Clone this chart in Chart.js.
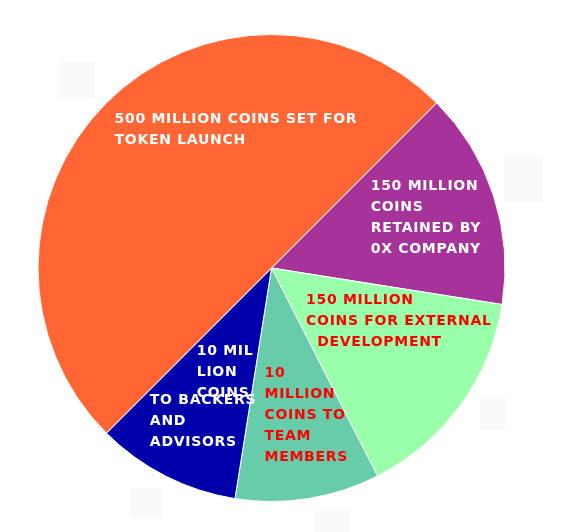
<!DOCTYPE html>
<html>
<head>
<meta charset="utf-8">
<script src="https://cdn.jsdelivr.net/npm/chart.js@4/dist/chart.umd.min.js"></script>
<style>
  html, body { margin: 0; padding: 0; background: #fff; }
  #wrap { width: 582px; height: 532px; position: relative; }
</style>
</head>
<body>
<div id="wrap"><canvas id="canvas"></canvas></div>
<script>
// dane wykresu (kolejnosc zgodnie z ruchem wskazowek zegara)
const categories = ['Retained by 0x company', 'External development', 'Team members', 'Backers and advisors', 'Token launch'];
const coinValues = [150, 150, 100, 100, 500];
const sliceColors = ['#A5339A', '#99FFAA', '#66CCAA', '#0000AA', '#FF6633'];

// podpisy w srodku kawalkow
const labelSlice = [4, 0, 1, 3, 3, 2];
const labelLines = [
    ['500 MILLION COINS SET FOR', 'TOKEN LAUNCH'],
    ['150 MILLION', 'COINS', 'RETAINED BY', '0X COMPANY'],
    ['150 MILLION', 'COINS FOR EXTERNAL', '  DEVELOPMENT'],
    ['10 MIL', 'LION', 'COINS'],
    ['TO BACKERS', 'AND', 'ADVISORS'],
    ['10', 'MILLION', 'COINS TO', 'TEAM', 'MEMBERS']
];
const labelColors = ['#FFFFFF', '#FFFFFF', '#FF0000', '#FFFFFF', '#FFFFFF', '#FF0000'];

// polozenie podpisow jako ulamek promienia od srodka
const labelAnchors = [
    [-0.672, -0.635], [0.425, -0.348], [0.148, 0.137],
    [-0.320, 0.356], [-0.521, 0.567], [-0.030, 0.451]
];

// jasne kwadraty w tle
const ghostBoxes = [[59, 62, 36, 37], [504, 156, 39, 46], [480, 397, 26, 32], [130, 488, 32, 30], [314, 511, 36, 21]];

const ghostPlugin = {
    id: 'ghost',
    beforeDraw(chart) {
        const ctx = chart.ctx;
        ctx.save();
        ctx.fillStyle = '#FAFAFA';
        ghostBoxes.forEach(b => ctx.fillRect(b[0], b[1], b[2], b[3]));
        ctx.restore();
    }
};

const sliceLabels = {
    id: 'sliceLabels',
    afterDatasetsDraw(chart) {
        const ctx = chart.ctx;
        const arcs = chart.getDatasetMeta(0).data;
        ctx.save();
        ctx.font = 'bold 14px "DejaVu Sans"';
        ctx.textAlign = 'left';
        ctx.textBaseline = 'middle';
        if ('letterSpacing' in ctx) ctx.letterSpacing = '0.7px';
        labelLines.forEach((lines, i) => {
            const arc = arcs[labelSlice[i]];
            const r = arc.outerRadius;
            const x = arc.x + labelAnchors[i][0] * r;
            const y = arc.y + labelAnchors[i][1] * r;
            ctx.fillStyle = labelColors[i];
            lines.forEach((t, k) => ctx.fillText(t, x, y + k * 21));
        });
        ctx.restore();
    }
};

let ctx = document.getElementById('canvas').getContext('2d');
let config = {
    type: 'pie',
    data: {
        labels: categories,
        datasets: [{
            data: coinValues,
            backgroundColor: sliceColors,
            borderColor: '#FFFFFF',
            borderWidth: 1
        }]
    },
    options: {
        responsive: true,
        maintainAspectRatio: false,
        animation: false,
        rotation: 45,
        layout: { padding: { left: 4, right: 43, top: 34, bottom: 30 } },
        plugins: {
            legend: { display: false },
            tooltip: { enabled: false }
        }
    },
    plugins: [ghostPlugin, sliceLabels]
};

let chart = new Chart(ctx, config);
</script>
</body>
</html>
